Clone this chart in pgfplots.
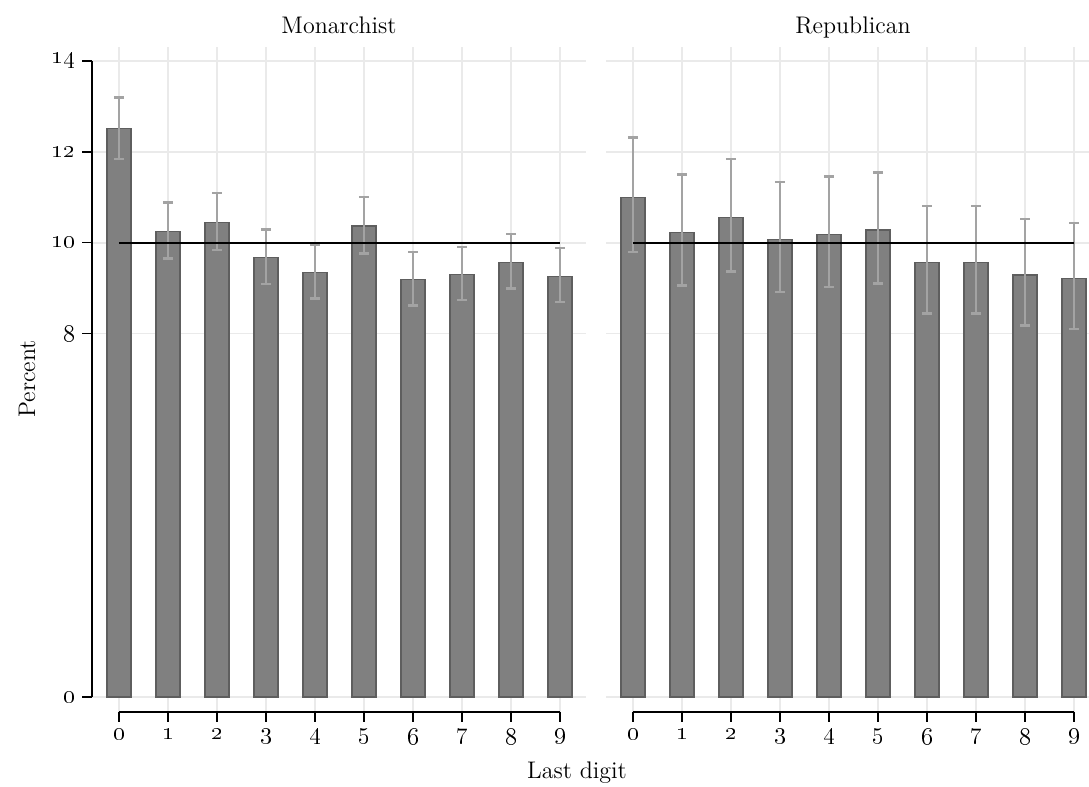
\documentclass[border=0pt]{standalone}
\usepackage{pgfplots}
\usepackage{pgfplotstable}
\pgfplotsset{compat=1.18}
\definecolor{barfill}{HTML}{808080}
\definecolor{baredge}{HTML}{5E5E5E}
\definecolor{errc}{HTML}{A3A3A3}
\definecolor{gridc}{HTML}{EAEAEA}

\pgfplotstableread{
x y hi lo
0 12.51 13.20 11.85
1 10.24 10.89 9.65
2 10.45 11.09 9.84
3 9.67 10.29 9.09
4 9.34 9.95 8.77
5 10.37 11.01 9.76
6 9.20 9.80 8.62
7 9.30 9.91 8.74
8 9.57 10.19 8.99
9 9.25 9.88 8.70
}\monarch

\pgfplotstableread{
x y hi lo
0 11.00 12.32 9.80
1 10.23 11.50 9.06
2 10.56 11.84 9.37
3 10.07 11.34 8.91
4 10.18 11.46 9.02
5 10.28 11.55 9.10
6 9.57 10.81 8.44
7 9.57 10.81 8.44
8 9.29 10.52 8.18
9 9.21 10.43 8.10
}\republ

\pgfplotsset{panel/.style={
  scale only axis, width=247pt, height=332.5pt,
  xmin=-0.55, xmax=9.53, ymin=-0.33, ymax=14.31,
  axis lines=left, axis line style={draw=none},
  tick align=outside, major tick length=5pt,
  tick style={black, line width=0.7pt},
  grid=major, grid style={gridc, line width=0.8pt},
  xtick={0,...,9},
  xticklabels={\oldstylenums{0},\oldstylenums{1},\oldstylenums{2},\oldstylenums{3},\oldstylenums{4},\oldstylenums{5},\oldstylenums{6},\oldstylenums{7},\oldstylenums{8},\oldstylenums{9}},
  ytick={0,8,10,12,14},
  tick label style={font=\fontsize{12}{14}\selectfont},
  clip=false,
},
barplot/.style={ybar, bar width=12pt, bar shift=0pt, fill=barfill, draw=baredge, line width=0.6pt,
  error bars/.cd, y dir=both, y explicit, error mark=-,
  error bar style={draw=errc, line width=1.2pt},
  error mark options={draw=errc, line width=1.2pt, mark size=2.5pt, rotate=90}}
}

\begin{document}
\begin{tikzpicture}
\begin{axis}[panel, at={(46pt,37.5pt)}, anchor=south west,
  yticklabels={\oldstylenums{0},\oldstylenums{8},\oldstylenums{10},\oldstylenums{12},\oldstylenums{14}}]
\addplot[barplot] table[x=x, y=y, y error plus expr=\thisrow{hi}-\thisrow{y}, y error minus expr=\thisrow{y}-\thisrow{lo}] {\monarch};
\addplot[black, line width=1pt] coordinates {(0,10) (9,10)};
\draw[black, line width=0.7pt] (axis cs:-0.55,0) -- (axis cs:-0.55,14);
\draw[black, line width=0.7pt] (axis cs:0,-0.33) -- (axis cs:9,-0.33);
\end{axis}
\begin{axis}[panel, at={(303pt,37.5pt)}, anchor=south west,
  yticklabel=\empty, ytick style={draw=none}]
\addplot[barplot] table[x=x, y=y, y error plus expr=\thisrow{hi}-\thisrow{y}, y error minus expr=\thisrow{y}-\thisrow{lo}] {\republ};
\addplot[black, line width=1pt] coordinates {(0,10) (9,10)};
\draw[black, line width=0.7pt] (axis cs:0,-0.33) -- (axis cs:9,-0.33);
\end{axis}
\node[anchor=base, font=\fontsize{12}{14}\selectfont] at (169.5pt,376.5pt) {Monarchist};
\node[anchor=base, font=\fontsize{12}{14}\selectfont] at (426.5pt,376.5pt) {Republican};
\node[anchor=base, rotate=90, font=\fontsize{12}{14}\selectfont] at (17.5pt,204pt) {Percent};
\node[anchor=base, font=\fontsize{12}{14}\selectfont] at (288.5pt,4pt) {Last digit};
\pgfresetboundingbox
\path[use as bounding box] (0,0) rectangle (544.5pt,393.5pt);
\end{tikzpicture}
\end{document}
